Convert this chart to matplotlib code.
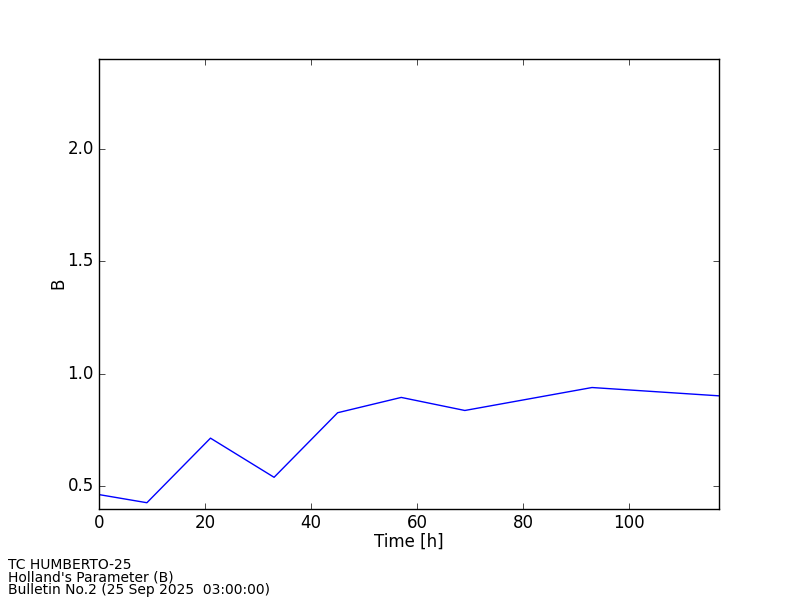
import matplotlib
matplotlib.use("Agg")
import matplotlib.pyplot as plt

# forecast time [h] and Holland B parameter
hours = [0, 9, 21, 33, 45, 57, 69, 93, 117]
b_values = [0.463, 0.427, 0.714, 0.540, 0.827, 0.895, 0.837, 0.939, 0.902]

storm = "TC HUMBERTO-25"
param = "Holland's Parameter (B)"
bulletin = "Bulletin No.2 (25 Sep 2025  03:00:00)"

plt.style.use("classic")
fig = plt.figure(figsize=(8, 6), dpi=100, facecolor="white")
ax = fig.add_subplot(111)
fig.subplots_adjust(left=0.124, right=0.899, top=0.902, bottom=0.152)

ax.plot(hours, b_values, "b-")
ax.set_xlim(0, 117)
ax.set_ylim(0.4, 2.4)
ax.set_yticks([0.5, 1.0, 1.5, 2.0])
ax.set_xlabel("Time [h]", labelpad=0)
ax.set_ylabel("B", labelpad=0)

fig.text(0.01, 0.005, storm + "\n" + param + "\n" + bulletin,
         fontsize=10, ha="left", va="bottom", linespacing=0.86)

fig.savefig("out.png", dpi=100, facecolor="white")
